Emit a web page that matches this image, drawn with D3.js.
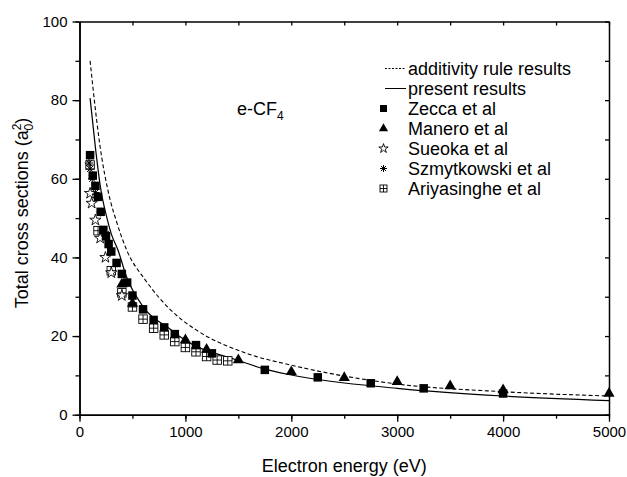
<!DOCTYPE html>
<html>
<head>
<meta charset="utf-8">
<script src="https://cdn.jsdelivr.net/npm/d3@7"></script>
<style>
  body { margin: 0; background: #fff; }
  text { font-family: "Liberation Sans", Arial, sans-serif; fill: #000; }
</style>
</head>
<body>
<svg id="chart" width="627" height="477"></svg>
<script>
// additivity rule results (dashed) and present results (solid)
var additivityE = [100, 140, 185, 290, 345, 445, 620, 760, 950, 1105, 1600, 2000, 3000, 4000, 5000];
var additivityQ = [90, 80, 70, 54.6, 49.5, 41.9, 34.3, 29.5, 24.5, 21.5, 15.4, 12.6, 7.8, 5.85, 4.75];
var presentE = [100, 150, 200, 250, 300, 363, 445, 600, 870, 950, 1500, 1750, 2000, 3000, 4000, 5000];
var presentQ = [80.5, 68, 57.5, 51, 46, 41.9, 35, 27.5, 21.5, 19.8, 13.8, 11.6, 10.1, 6.7, 4.75, 3.6];

// experimental data
var zeccaE = [100, 125, 150, 175, 200, 225, 250, 275, 300, 350, 400, 450, 500, 600, 700, 800, 900, 1100, 1250, 1750, 2250, 2750, 3250, 4000];
var zeccaQ = [66.0, 60.8, 58.2, 55.4, 51.6, 47.0, 45.4, 43.4, 41.5, 38.6, 35.8, 33.6, 30.3, 26.8, 24.1, 22.2, 20.5, 17.7, 15.6, 11.4, 9.5, 8.0, 6.7, 5.4];
var maneroE = [400, 500, 1000, 1200, 1500, 2000, 2500, 3000, 3500, 4000, 5000];
var maneroQ = [33.2, 28.3, 19.0, 16.6, 13.9, 10.9, 9.4, 8.4, 7.3, 6.3, 5.4];
var sueokaE = [100, 115, 150, 195, 245, 300, 400];
var sueokaQ = [56.3, 53.8, 49.5, 44.9, 40.0, 36.1, 30.3];
var szmytE = [90, 100, 120, 150, 200, 250];
var szmytQ = [64.0, 62.5, 60.0, 56.5, 51.5, 46.0];
var ariyaE = [100, 175, 300, 400, 500, 600, 700, 800, 900, 1000, 1100, 1200, 1300, 1400];
var ariyaQ = [63.5, 46.8, 36.6, 31.0, 27.4, 24.3, 22.0, 20.3, 18.6, 17.1, 16.0, 14.8, 13.9, 13.7];

var xTicks = [0, 1000, 2000, 3000, 4000, 5000];
var yTicks = [0, 20, 40, 60, 80, 100];

var svg = d3.select('#chart');
var x = d3.scaleLinear().domain([0, 5000]).range([79.5, 609]);
var y = d3.scaleLinear().domain([0, 100]).range([414.7, 21.5]);

var zip = function(a, b) { return a.map(function(v, i) { return [v, b[i]]; }); };

// axes
var minorX = d3.range(0, 5001, 500);
var minorY = d3.range(0, 101, 10);

var axisStyle = function(g) {
  g.select('.domain').attr('stroke', '#000').attr('stroke-width', 1.5);
  g.selectAll('.tick line').attr('stroke', '#000').attr('stroke-width', 1.3);
  g.selectAll('text').style('font-size', '15px').style('font-family', '"Liberation Sans", Arial, sans-serif').attr('fill', '#000');
};

svg.append('g').attr('transform', 'translate(0,' + y(0) + ')')
  .call(d3.axisBottom(x).tickValues(minorX).tickSize(4).tickFormat('').tickSizeOuter(0)).call(axisStyle);
svg.append('g').attr('transform', 'translate(0,' + y(0) + ')')
  .call(d3.axisBottom(x).tickValues(xTicks).tickSize(7).tickPadding(5).tickFormat(d3.format('d')).tickSizeOuter(0)).call(axisStyle);

svg.append('g').attr('transform', 'translate(' + x(0) + ',0)')
  .call(d3.axisLeft(y).tickValues(minorY).tickSize(4).tickFormat('').tickSizeOuter(0)).call(axisStyle);
svg.append('g').attr('transform', 'translate(' + x(0) + ',0)')
  .call(d3.axisLeft(y).tickValues(yTicks).tickSize(7).tickPadding(5).tickFormat(d3.format('d')).tickSizeOuter(0)).call(axisStyle);

svg.append('g').attr('transform', 'translate(0,' + y(100) + ')')
  .call(d3.axisTop(x).tickValues(minorX).tickSize(-4).tickFormat('').tickSizeOuter(0)).call(axisStyle);
svg.append('g').attr('transform', 'translate(' + x(5000) + ',0)')
  .call(d3.axisRight(y).tickValues(minorY).tickSize(-4).tickFormat('').tickSizeOuter(0)).call(axisStyle);

// axis titles
svg.append('text').attr('x', (x(0) + x(5000)) / 2).attr('y', 472)
  .attr('text-anchor', 'middle').style('font-size', '18px').text('Electron energy (eV)');

var yt = svg.append('text').attr('transform', 'translate(28,' + 213 + ') rotate(-90)')
  .attr('text-anchor', 'middle').style('font-size', '18px');
yt.append('tspan').text('Total cross sections (a');
yt.append('tspan').attr('dy', -7).style('font-size', '12px').text('2');
yt.append('tspan').attr('dx', -7).attr('dy', 12).style('font-size', '12px').text('0');
yt.append('tspan').attr('dy', -5).text(')');

// label
var lab = svg.append('text').attr('x', 237).attr('y', 115).style('font-size', '18px');
lab.append('tspan').text('e-CF');
lab.append('tspan').attr('dy', 5).style('font-size', '12px').text('4');

// curves
var line = d3.line().x(function(d) { return x(d[0]); }).y(function(d) { return y(d[1]); })
  .curve(d3.curveMonotoneX);

svg.append('path').attr('d', line(zip(additivityE, additivityQ)))
  .attr('fill', 'none').attr('stroke', '#000').attr('stroke-width', 1.1).attr('stroke-dasharray', '4,2.5');
svg.append('path').attr('d', line(zip(presentE, presentQ)))
  .attr('fill', 'none').attr('stroke', '#000').attr('stroke-width', 1.2);

// symbol drawers
var drawSym = function(g, kind, cx, cy, s) {
  if (kind === 'square') {
    g.append('rect').attr('x', cx - s / 2).attr('y', cy - s / 2).attr('width', s).attr('height', s).attr('fill', '#000');
  } else if (kind === 'triangle') {
    g.append('path').attr('transform', 'translate(' + cx + ',' + cy + ')')
      .attr('d', d3.symbol(d3.symbolTriangle, s * s * 0.75)()).attr('fill', '#000');
  } else if (kind === 'star') {
    g.append('path').attr('transform', 'translate(' + cx + ',' + cy + ')')
      .attr('d', d3.symbol(d3.symbolStar, s * s * 0.55)()).attr('fill', '#fff').attr('stroke', '#000').attr('stroke-width', 0.9);
  } else if (kind === 'asterisk') {
    var r = s / 2;
    var p = '';
    [0, 45, 90, 135].forEach(function(a) {
      var c = Math.cos(a * Math.PI / 180) * r, sn = Math.sin(a * Math.PI / 180) * r;
      p += 'M' + (cx - c) + ',' + (cy - sn) + 'L' + (cx + c) + ',' + (cy + sn);
    });
    g.append('path').attr('d', p).attr('fill', 'none').attr('stroke', '#000').attr('stroke-width', 1);
  } else if (kind === 'boxplus') {
    g.append('rect').attr('x', cx - s / 2).attr('y', cy - s / 2).attr('width', s).attr('height', s)
      .attr('fill', '#fff').attr('stroke', '#000').attr('stroke-width', 0.9);
    g.append('path').attr('d', 'M' + cx + ',' + (cy - s / 2) + 'V' + (cy + s / 2) + 'M' + (cx - s / 2) + ',' + cy + 'H' + (cx + s / 2))
      .attr('stroke', '#000').attr('stroke-width', 0.9);
  }
};

var series = [
  { name: 'Ariyasinghe et al', kind: 'boxplus', e: ariyaE, q: ariyaQ },
  { name: 'Szmytkowski et al', kind: 'asterisk', e: szmytE, q: szmytQ },
  { name: 'Sueoka et al', kind: 'star', e: sueokaE, q: sueokaQ },
  { name: 'Manero et al', kind: 'triangle', e: maneroE, q: maneroQ },
  { name: 'Zecca et al', kind: 'square', e: zeccaE, q: zeccaQ }
];

series.forEach(function(s) {
  var g = svg.append('g');
  zip(s.e, s.q).forEach(function(d) { drawSym(g, s.kind, x(d[0]), y(d[1]), 8.5); });
});

// legend
var leg = svg.append('g');
var legRows = ['additivity rule results', 'present results', 'Zecca et al', 'Manero et al', 'Sueoka et al', 'Szmytkowski et al', 'Ariyasinghe et al'];
var legKinds = ['dash', 'solid', 'square', 'triangle', 'star', 'asterisk', 'boxplus'];
legRows.forEach(function(t, i) {
  var cy = 68.5 + i * 20;
  var k = legKinds[i];
  if (k === 'dash' || k === 'solid') {
    leg.append('line').attr('x1', 385).attr('x2', 406).attr('y1', cy).attr('y2', cy)
      .attr('stroke', '#000').attr('stroke-width', 1).attr('stroke-dasharray', k === 'dash' ? '2,1.5' : null);
  } else {
    drawSym(leg, k, 383.5, cy, 7);
  }
  leg.append('text').attr('x', 408).attr('y', cy + 6.5).style('font-size', '18px').text(t);
});
</script>
</body>
</html>
